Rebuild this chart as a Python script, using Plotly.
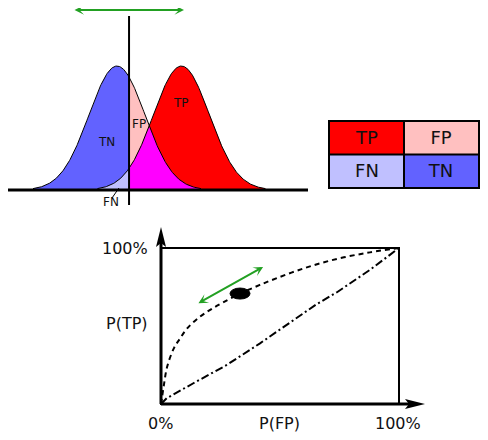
import numpy as np
import plotly.graph_objects as go

# score distributions (blue = negatives, red = positives), x in units of one sd
neg_mean = 0.0
pos_mean = 2.3
sd = 1.0
threshold = 0.43
tail = 3.0

# ROC curve (fractions)
roc_fpr = [0, 0.004, 0.012, 0.026, 0.055, 0.08, 0.11, 0.16, 0.21, 0.26, 0.332,
           0.395, 0.458, 0.597, 0.739, 0.878, 1.0]
roc_tpr = [0, 0.04, 0.12, 0.24, 0.36, 0.42, 0.485, 0.555, 0.607, 0.65, 0.708,
           0.75, 0.79, 0.868, 0.93, 0.972, 1.0]
chance_fpr = [0, 0.024, 0.136, 0.276, 0.416, 0.556, 0.654, 0.738, 0.878, 1.0]
chance_tpr = [0, 0.037, 0.133, 0.25, 0.389, 0.538, 0.64, 0.715, 0.86, 1.0]
op_fpr, op_tpr = 0.332, 0.708

# confusion table
cell_text = [["FN", "TN"], ["TP", "FP"]]
cell_code = [[2, 3], [0, 1]]
x_ticks = ["0%", "P(FP)", "100%"]
y_ticks = ["100%", "P(TP)"]

RED = "#ff0000"
PINK = "#ffc0c0"
LBLUE = "#c0c0ff"
BLUE = "#6262ff"
MAGENTA = "#ff00ff"
GREEN = "#22a022"
FONT = "DejaVu Sans"

# the page body has an 8px margin, so the figure is laid out in window pixels minus that
OFF = 8
W, H = 488 - 2 * OFF, 440 - 2 * OFF


def fx(px):
    return (px - OFF) / W


def fy(py):
    return 1 - (py - OFF) / H


def bell(x, m):
    y = np.exp(-0.5 * ((x - m) / sd) ** 2)
    return np.where(np.abs(x - m) <= tail * sd, y, 0.0)


fig = go.Figure()

# --- top: two distributions split by the threshold ---
xl = np.linspace(neg_mean - tail * sd, threshold, 200)
xr = np.linspace(threshold, pos_mean + tail * sd, 300)
nl, pl = bell(xl, neg_mean), bell(xl, pos_mean)
nr, pr = bell(xr, neg_mean), bell(xr, pos_mean)

def fill(x, y, color):
    fig.add_trace(go.Scatter(x=x, y=y, mode="lines", fill="tozeroy", fillcolor=color,
                             line=dict(width=0, color=color), hoverinfo="skip"))

fill(xl, nl, BLUE)
fill(xl, np.minimum(nl, pl), LBLUE)
fill(xr, nr, PINK)
fill(xr, pr, RED)
fill(xr, np.minimum(nr, pr), MAGENTA)

for m in (neg_mean, pos_mean):
    xo = np.linspace(m - tail * sd, m + tail * sd, 300)
    fig.add_trace(go.Scatter(x=xo, y=bell(xo, m), mode="lines",
                             line=dict(color="black", width=1), hoverinfo="skip"))

# --- ROC panel ---
fig.add_trace(go.Scatter(x=chance_fpr, y=chance_tpr, mode="lines", xaxis="x2", yaxis="y2",
                         line=dict(color="black", width=2, dash="8px,3px,2px,3px"),
                         hoverinfo="skip"))
fig.add_trace(go.Scatter(x=roc_fpr, y=roc_tpr, mode="lines", xaxis="x2", yaxis="y2",
                         line=dict(color="black", width=2, dash="5px,4px", shape="spline"),
                         hoverinfo="skip"))

# --- confusion table ---
fig.add_trace(go.Heatmap(z=cell_code, x=[0, 1], y=[0, 1], text=cell_text,
                         texttemplate="%{text}", textfont=dict(size=18, color="#111", family=FONT),
                         colorscale=[[0, RED], [1 / 3, PINK], [2 / 3, LBLUE], [1, BLUE]],
                         zmin=0, zmax=3, showscale=False, hoverinfo="skip",
                         xaxis="x3", yaxis="y3"))

# top panel scale: mean at px 117, 28 px per sd; baseline at py 190, peak 124 px
top_x0, top_x1 = 8, 308
top_y0, top_y1 = 8, 215
sx, sy, mx, by = 28.0, 124.0, 117, 190
top_xr = [(top_x0 - mx) / sx, (top_x1 - mx) / sx]
top_yr = [(by - top_y1) / sy, (by - top_y0) / sy]

# ROC scale: origin at (161, 404), 238 x 156 px box
rx0, rx1, ry0, ry1 = 95, 478, 220, 432
ox, oy, bw, bh = 161, 404, 238, 156
roc_xr = [(rx0 - ox) / bw, (rx1 - ox) / bw]
roc_yr = [(oy - ry1) / bh, (oy - ry0) / bh]

hidden = dict(visible=False, fixedrange=True)
fig.update_layout(
    width=W, height=H, margin=dict(l=0, r=0, t=0, b=0),
    paper_bgcolor="white", plot_bgcolor="white", showlegend=False,
    font=dict(family=FONT, color="#111"),
    xaxis=dict(domain=[fx(top_x0), fx(top_x1)], range=top_xr, **hidden),
    yaxis=dict(domain=[fy(top_y1), fy(top_y0)], range=top_yr, **hidden),
    xaxis2=dict(domain=[fx(rx0), fx(rx1)], range=roc_xr, anchor="y2", **hidden),
    yaxis2=dict(domain=[fy(ry1), fy(ry0)], range=roc_yr, anchor="x2", **hidden),
    xaxis3=dict(domain=[fx(330), fx(478)], range=[-0.5, 1.5], anchor="y3",
                showline=True, mirror=True, linewidth=2, linecolor="black",
                showgrid=False, zeroline=False, showticklabels=False, ticks="", fixedrange=True),
    yaxis3=dict(domain=[fy(187), fy(122)], range=[-0.5, 1.5], anchor="x3",
                showline=True, mirror=True, linewidth=2, linecolor="black",
                showgrid=False, zeroline=False, showticklabels=False, ticks="", fixedrange=True),
)

shapes = []
# baseline and threshold
shapes.append(dict(type="line", xref="x domain", yref="y", x0=0, x1=1, y0=0, y1=0,
                   line=dict(color="black", width=3)))
shapes.append(dict(type="line", xref="x", yref="y", x0=threshold, x1=threshold,
                   y0=(by - 205) / sy, y1=(by - 16) / sy, line=dict(color="black", width=2)))
# FN leader
shapes.append(dict(type="line", xref="x", yref="y", x0=-0.18, y0=-0.065, x1=0.07, y1=0.016,
                   line=dict(color="black", width=1)))
# table dividers
shapes.append(dict(type="line", xref="x3", yref="y3", x0=0.5, x1=0.5, y0=-0.5, y1=1.5,
                   line=dict(color="black", width=2)))
shapes.append(dict(type="line", xref="x3", yref="y3", x0=-0.5, x1=1.5, y0=0.5, y1=0.5,
                   line=dict(color="black", width=2)))
# ROC box and axes with arrows
shapes.append(dict(type="rect", xref="x2", yref="y2", x0=0, x1=1, y0=0, y1=1,
                   line=dict(color="black", width=2)))
tip_y = (oy - 227) / bh
tip_x = (425 - ox) / bw
hl_y, hl_x = 20 / bh, 20 / bw
hw_x, hw_y = 5 / bw, 5 / bh
shapes.append(dict(type="line", xref="x2", yref="y2", x0=0, x1=0, y0=0, y1=tip_y - hl_y * 0.8,
                   line=dict(color="black", width=3)))
shapes.append(dict(type="line", xref="x2", yref="y2", x0=0, x1=tip_x - hl_x * 0.8, y0=0, y1=0,
                   line=dict(color="black", width=3)))
shapes.append(dict(type="path", xref="x2", yref="y2", fillcolor="black", line=dict(width=0),
                   path=f"M0,{tip_y} L{hw_x},{tip_y - hl_y} L0,{tip_y - hl_y * 0.8} "
                        f"L{-hw_x},{tip_y - hl_y} Z"))
shapes.append(dict(type="path", xref="x2", yref="y2", fillcolor="black", line=dict(width=0),
                   path=f"M{tip_x},0 L{tip_x - hl_x},{hw_y} L{tip_x - hl_x * 0.8},0 "
                        f"L{tip_x - hl_x},{-hw_y} Z"))
# operating point
shapes.append(dict(type="circle", xref="x2", yref="y2", fillcolor="black",
                   line=dict(color="black", width=1),
                   x0=op_fpr - 10 / bw, x1=op_fpr + 10 / bw,
                   y0=op_tpr - 5.5 / bh, y1=op_tpr + 5.5 / bh))
fig.update_layout(shapes=shapes)

anns = []
# green double arrows
arrow = dict(text="", showarrow=True, arrowside="end+start", arrowhead=3, startarrowhead=3,
             arrowsize=0.8, startarrowsize=0.8, arrowwidth=2, arrowcolor=GREEN)
anns.append(dict(xref="x", yref="y", axref="x", ayref="y",
                 x=(184 - mx) / sx, y=(by - 10) / sy, ax=(73 - mx) / sx, ay=(by - 10) / sy, **arrow))
anns.append(dict(xref="x2", yref="y2", axref="x2", ayref="y2",
                 x=0.429, y=0.878, ax=0.151, ay=0.641, **arrow))
# region labels
for t, x, y in [("TN", -0.37, 0.387), ("FP", 0.80, 0.532), ("TP", 2.27, 0.70), ("FN", -0.225, -0.10)]:
    anns.append(dict(xref="x", yref="y", x=x, y=y, text=t, showarrow=False,
                     font=dict(size=12, family=FONT, color="#111")))
# ROC labels
for t, x in zip(x_ticks, [-0.004, 0.496, 0.996]):
    anns.append(dict(xref="x2", yref="y2", x=x, y=(oy - 423) / bh, text=t, showarrow=False,
                     font=dict(size=16, family=FONT, color="#111")))
for t, y in zip(y_ticks, [1.0, (oy - 323) / bh]):
    anns.append(dict(xref="x2", yref="y2", x=(150 - ox) / bw, y=y, text=t, showarrow=False,
                     xanchor="right", font=dict(size=16, family=FONT, color="#111")))
fig.update_layout(annotations=anns)

fig.write_html("out.html")
